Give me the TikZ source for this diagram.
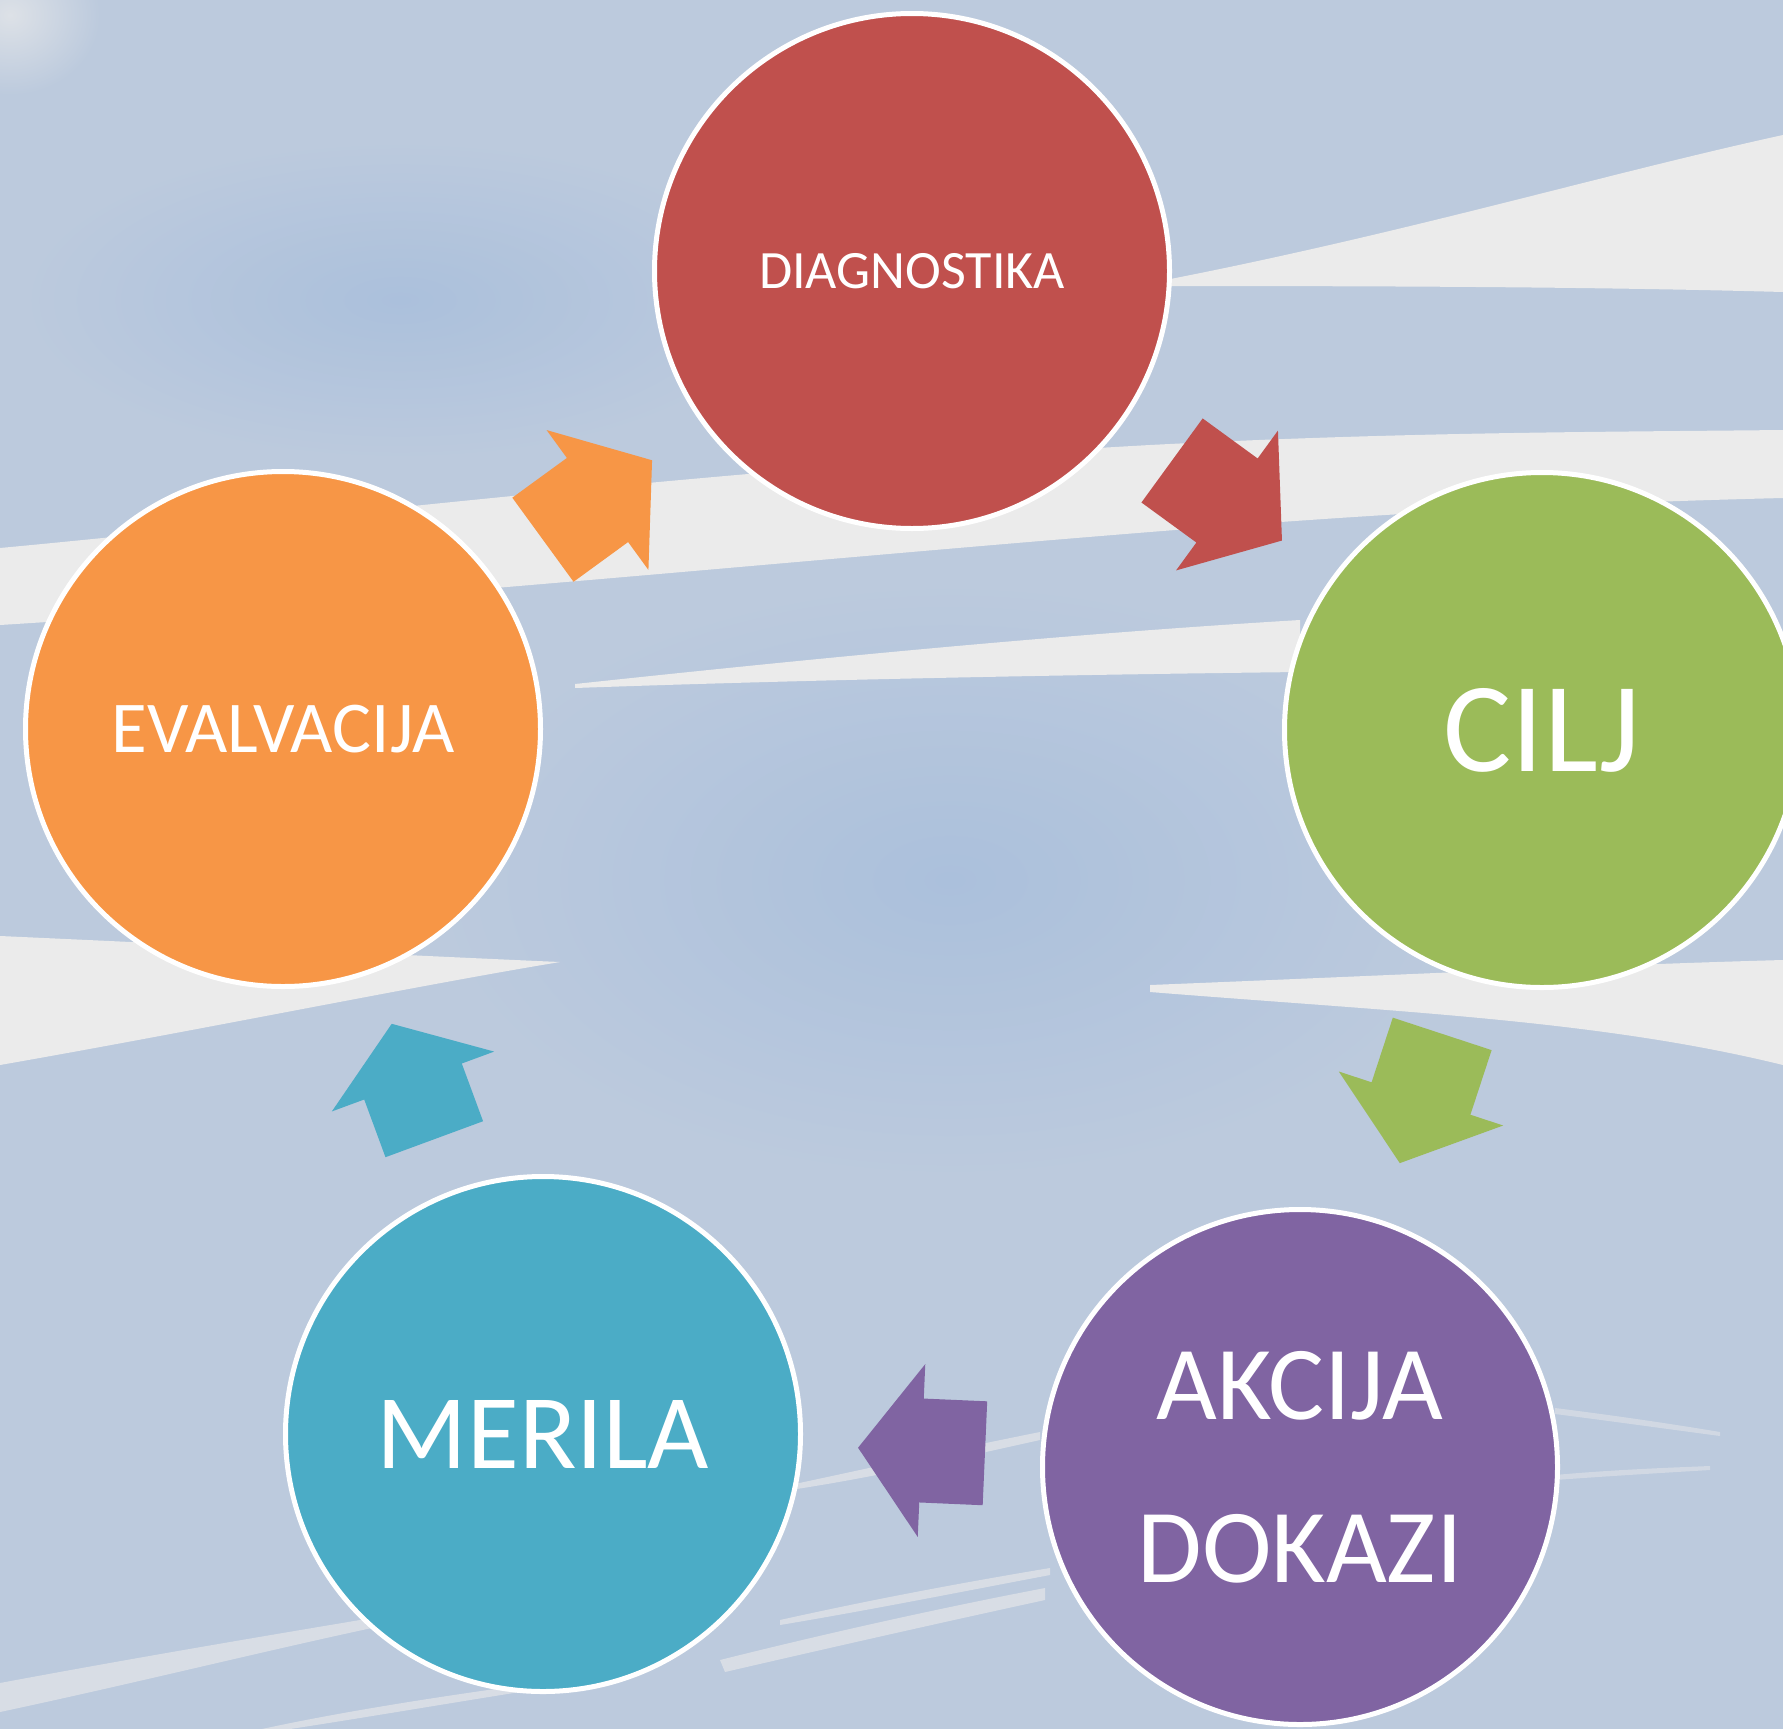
\documentclass[tikz,border=0pt]{standalone}
\usepackage{fontspec}
\setmainfont{Carlito}
\usetikzlibrary{calc}
\definecolor{bgblue}{HTML}{BCCADD}
\definecolor{bgdark}{HTML}{ABC0DC}
\definecolor{streak}{HTML}{EBEBEB}
\definecolor{cred}{HTML}{C0504D}
\definecolor{cgreen}{HTML}{9BBB59}
\definecolor{cpurple}{HTML}{8064A2}
\definecolor{cblue}{HTML}{4BACC6}
\definecolor{corange}{HTML}{F79646}
% block arrow from node #1 towards node #2, colour #3, length #4 (px)
\newcommand\cycarrow[4]{%
  \pgfmathanglebetweenpoints{\pgfpointanchor{#1}{center}}{\pgfpointanchor{#2}{center}}%
  \edef\arang{\pgfmathresult}%
  \fill[#3, shift={($(#1)!0.5!(#2)$)}, rotate=\arang]
    (-#4/2,-52) -- (0,-52) -- (0,-86.5) -- (#4/2,0) -- (0,86.5) -- (0,52) -- (-#4/2,52) -- cycle;
}
\begin{document}
\begin{tikzpicture}[x=0.5pt,y=-0.5pt,
  stage/.style={circle, draw=white, line width=2.5pt, minimum size=257.5pt,
    inner sep=0pt, text=white, align=center},
  streakfill/.style={fill=streak},
  faintstreak/.style={fill=streak, opacity=0.6}]
\useasboundingbox (0,0) rectangle (1783,1729);
\clip (0,0) rectangle (1783,1729);
% background
\fill[bgblue] (0,0) rectangle (1783,1729);
\shade[inner color=bgdark, outer color=bgblue] (950,880) ellipse [x radius=520, y radius=300];
\shade[inner color=bgdark, outer color=bgblue] (400,300) ellipse [x radius=380, y radius=160];
\shade[inner color=streak!70!bgblue, outer color=bgblue] (10,15) ellipse [x radius=90, y radius=80];
% streaks
\path[streakfill] (1150,283) .. controls (1400,235) and (1600,175) .. (1783,135)
  -- (1783,292) .. controls (1600,287) and (1400,286) .. (1150,286) -- cycle;
\path[streakfill] (0,548) .. controls (300,520) and (700,470) .. (1150,445)
  .. controls (1400,432) and (1600,432) .. (1783,430) -- (1783,498)
  .. controls (1500,505) and (1300,520) .. (1150,532)
  .. controls (800,560) and (400,600) .. (0,625) -- cycle;
\path[streakfill] (575,684) .. controls (800,660) and (1050,635) .. (1300,620)
  -- (1300,672) .. controls (1050,675) and (800,680) .. (575,688) -- cycle;
\path[streakfill] (0,936) .. controls (200,945) and (400,955) .. (560,962)
  .. controls (420,985) and (200,1030) .. (0,1065) -- cycle;
\path[streakfill] (1150,985) .. controls (1400,975) and (1600,965) .. (1783,960)
  -- (1783,1065) .. controls (1600,1020) and (1400,1012) .. (1150,992) -- cycle;
\path[faintstreak] (0,1683) .. controls (150,1655) and (300,1630) .. (420,1610)
  -- (420,1618) .. controls (300,1642) and (150,1680) .. (0,1712) -- cycle;
\path[faintstreak] (262,1729) .. controls (350,1710) and (450,1695) .. (545,1682)
  -- (545,1688) .. controls (450,1703) and (350,1720) .. (290,1729) -- cycle;
\path[faintstreak] (720,1660) .. controls (820,1635) and (930,1610) .. (1045,1588)
  -- (1045,1600) .. controls (930,1625) and (820,1650) .. (725,1672) -- cycle;
\path[faintstreak] (790,1485) .. controls (870,1468) and (950,1450) .. (1040,1432)
  -- (1040,1440) .. controls (950,1460) and (870,1478) .. (790,1490) -- cycle;
\path[faintstreak] (780,1620) .. controls (870,1600) and (960,1583) .. (1050,1568)
  -- (1050,1575) .. controls (960,1592) and (870,1610) .. (780,1625) -- cycle;
\path[faintstreak, opacity=0.45] (1555,1408) .. controls (1610,1415) and (1660,1422) .. (1720,1432)
  -- (1720,1436) .. controls (1660,1428) and (1610,1421) .. (1555,1414) -- cycle;
\path[faintstreak, opacity=0.45] (1555,1475) .. controls (1610,1470) and (1660,1468) .. (1710,1466)
  -- (1710,1470) .. controls (1660,1473) and (1610,1476) .. (1555,1480) -- cycle;
% stages
\node[stage, fill=cred, font={\fontsize{27pt}{33pt}\selectfont}] (diag) at (912,271) {DIAGNOSTIKA};
\node[stage, fill=cgreen, font={\fontsize{64pt}{77pt}\selectfont}] (cilj) at (1542,730) {CILJ};
\node[stage, fill=cpurple, font={\fontsize{52.5pt}{81.5pt}\selectfont}] (akcija) at (1300,1467) {AKCIJA\\DOKAZI};
\node[stage, fill=cblue, font={\fontsize{53pt}{63pt}\selectfont}] (merila) at (543,1434) {MERILA};
\node[stage, fill=corange, font={\fontsize{36.5pt}{44pt}\selectfont}] (eval) at (283,729) {EVALVACIJA};
% arrows
\cycarrow{diag}{cilj}{cred}{136}
\cycarrow{cilj}{akcija}{cgreen}{136}
\cycarrow{akcija}{merila}{cpurple}{127}
\cycarrow{merila}{eval}{cblue}{123}
\cycarrow{eval}{diag}{corange}{135}
\end{tikzpicture}
\end{document}
